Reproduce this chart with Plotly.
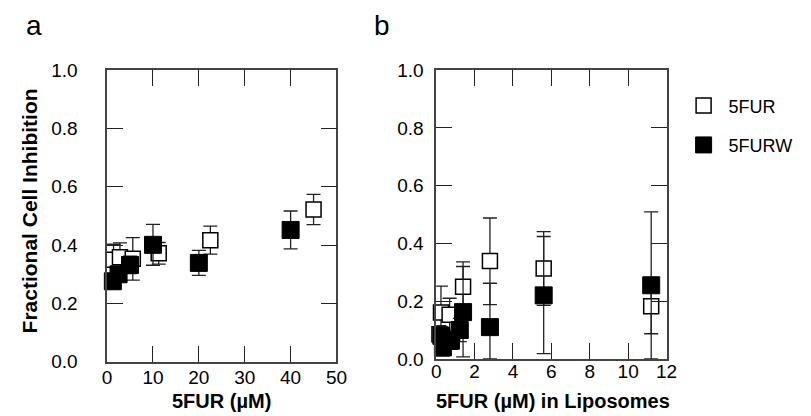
import plotly.graph_objects as go

# ---- Panel a data: 5FUR (µM) ----
a_open_x = [1.4, 2.8, 5.6, 11.25, 22.5, 45]
a_open_y = [0.35, 0.358, 0.353, 0.372, 0.417, 0.522]
a_open_err = [0.053, 0.05, 0.073, 0.037, 0.048, 0.052]

a_fill_x = [1.25, 2.5, 5, 10, 20, 40]
a_fill_y = [0.276, 0.30, 0.332, 0.401, 0.339, 0.452]
a_fill_err = [0.025, 0.025, 0.03, 0.07, 0.043, 0.065]

# ---- Panel b data: 5FUR (µM) in liposomes ----
b_open_x = [0.17, 0.25, 0.7, 1.4, 2.8, 5.6, 11.2]
b_open_y = [0.085, 0.161, 0.153, 0.25, 0.339, 0.313, 0.182]
b_open_err_plus = [0.03, 0.091, 0.057, 0.086, 0.149, 0.128, 0.095]
b_open_err_minus = [0.03, 0.091, 0.057, 0.086, 0.151, 0.128, 0.095]

b_fill_x = [0.27, 0.35, 0.77, 1.23, 1.4, 2.8, 5.6, 11.2]
b_fill_y = [0.08, 0.04, 0.063, 0.10, 0.162, 0.11, 0.22, 0.255]
b_fill_err_plus = [0.03, 0.03, 0.03, 0.04, 0.158, 0.152, 0.204, 0.254]
b_fill_err_minus = [0.03, 0.03, 0.03, 0.04, 0.155, 0.11, 0.202, 0.255]

series_names = ["5FUR", "5FURW"]
y_ticks = [0.0, 0.2, 0.4, 0.6, 0.8, 1.0]
a_x_ticks = [0, 10, 20, 30, 40, 50]
b_x_ticks = [0, 2, 4, 6, 8, 10, 12]

FONT = "Liberation Sans, Arial, sans-serif"
W, H = 811, 416

err_style = dict(type="data", color="#222", thickness=1.3, width=7)
open_marker = dict(symbol="square", size=15, color="white", line=dict(color="black", width=1.5))
fill_marker = dict(symbol="square", size=17, color="black", line=dict(color="black", width=1))

fig = go.Figure()
fig.add_trace(go.Scatter(x=a_open_x, y=a_open_y, mode="markers", name=series_names[0],
                         marker=open_marker, cliponaxis=False, legendgroup="g1",
                         error_y=dict(array=a_open_err, **err_style), xaxis="x", yaxis="y"))
fig.add_trace(go.Scatter(x=a_fill_x, y=a_fill_y, mode="markers", name=series_names[1],
                         marker=fill_marker, cliponaxis=False, legendgroup="g2",
                         error_y=dict(array=a_fill_err, **err_style), xaxis="x", yaxis="y"))
fig.add_trace(go.Scatter(x=b_open_x, y=b_open_y, mode="markers", name=series_names[0],
                         marker=open_marker, cliponaxis=False, showlegend=False, legendgroup="g1",
                         error_y=dict(array=b_open_err_plus, arrayminus=b_open_err_minus, **err_style),
                         xaxis="x2", yaxis="y2"))
fig.add_trace(go.Scatter(x=b_fill_x, y=b_fill_y, mode="markers", name=series_names[1],
                         marker=fill_marker, cliponaxis=False, showlegend=False, legendgroup="g2",
                         error_y=dict(array=b_fill_err_plus, arrayminus=b_fill_err_minus, **err_style),
                         xaxis="x2", yaxis="y2"))

axis_common = dict(showgrid=False, zeroline=False, showline=True, linecolor="#444", linewidth=1.5,
                   mirror="ticks", ticks="inside", ticklen=16, tickwidth=1, tickcolor="#222",
                   tickfont=dict(family=FONT, size=19, color="black"))

fig.update_layout(
    width=W, height=H,
    margin=dict(l=0, r=0, t=0, b=0),
    paper_bgcolor="white", plot_bgcolor="white",
    font=dict(family=FONT, color="black"),
    xaxis=dict(domain=[96 / W, 330 / W], range=[0, 50], tickvals=a_x_ticks,
               ticklabelstandoff=-2, anchor="y", **axis_common),
    yaxis=dict(domain=[(H - 362) / H, (H - 55) / H], range=[0, 1], tickvals=y_ticks,
               tickformat=".1f", ticklabelstandoff=24, anchor="x", **axis_common),
    xaxis2=dict(domain=[431.7 / W, 666.7 / W], range=[0, 12], tickvals=b_x_ticks,
                ticklabelstandoff=-5, anchor="y2", **axis_common),
    yaxis2=dict(domain=[(H - 359) / H, (H - 55) / H], range=[0, 1], tickvals=y_ticks,
                tickformat=".1f", ticklabelstandoff=7, anchor="x2", **axis_common),
    showlegend=True,
    legend=dict(x=679 / W, y=(H - 73) / H, xanchor="left", yanchor="top",
                font=dict(family=FONT, size=18, color="black"),
                bgcolor="rgba(0,0,0,0)", tracegroupgap=13, itemwidth=40),
)

annotations = [
    dict(text="a", x=11 / W, y=(H - 26) / H, xanchor="left", yanchor="bottom",
         font=dict(family=FONT, size=28)),
    dict(text="b", x=366 / W, y=(H - 26) / H, xanchor="left", yanchor="bottom",
         font=dict(family=FONT, size=28)),
    dict(text="<b>Fractional Cell Inhibition</b>", x=17 / W, y=(H - 203) / H, textangle=-90,
         xanchor="center", yanchor="middle", font=dict(family=FONT, size=21)),
    dict(text="<b>5FUR (µM)</b>", x=213 / W, y=(H - 403) / H, xanchor="center", yanchor="middle",
         font=dict(family=FONT, size=20)),
    dict(text="<b>5FUR (µM) in Liposomes</b>", x=551 / W, y=(H - 403) / H, xanchor="center",
         yanchor="middle", font=dict(family=FONT, size=20)),
]
for an in annotations:
    an.update(xref="paper", yref="paper", showarrow=False)
fig.update_layout(annotations=annotations)

fig.write_html("out.html")
